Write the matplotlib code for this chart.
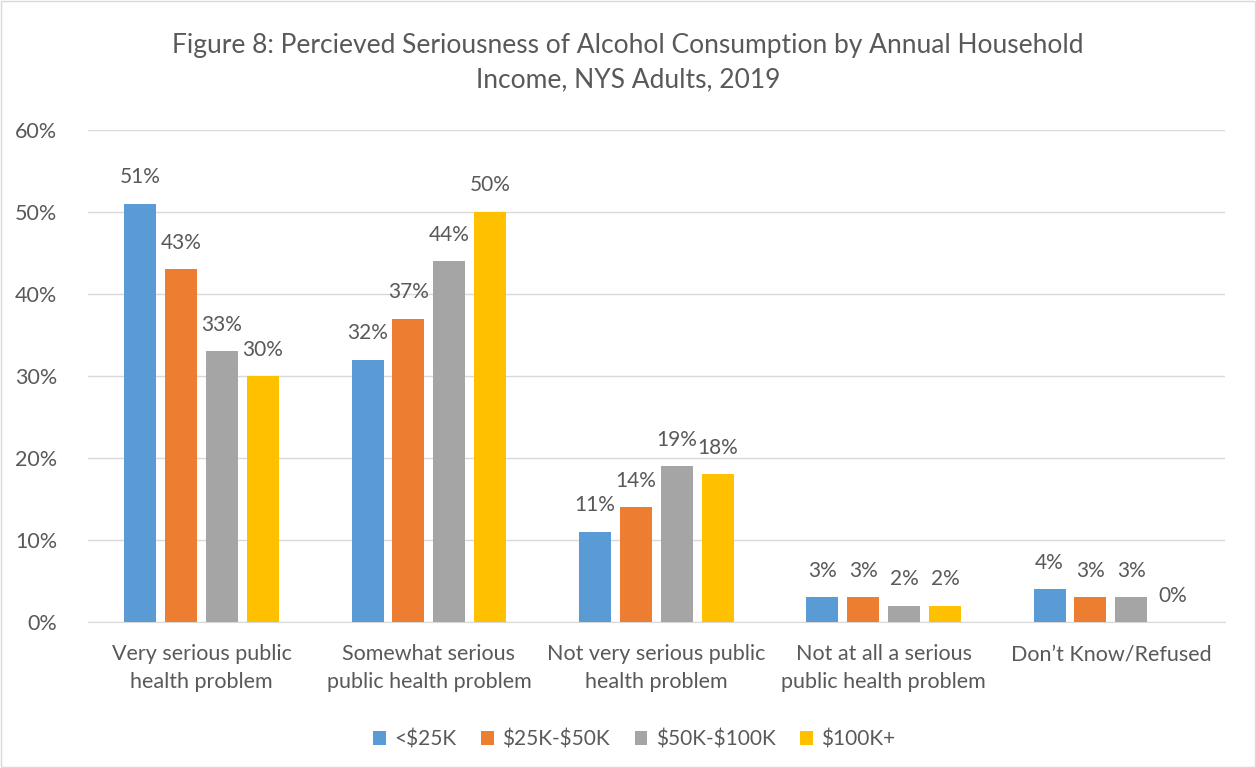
import matplotlib.pyplot as plt
import numpy as np

plt.rcParams['font.family'] = ['Lato', 'DejaVu Sans']

categories = ['Very serious public\nhealth problem', 'Somewhat serious\npublic health problem',
              'Not very serious public\nhealth problem', 'Not at all a serious\npublic health problem',
              'Don\u2019t Know/Refused']
series = [r'<\$25K', r'\$25K-\$50K', r'\$50K-\$100K', r'\$100K+']
values = [
    [51, 32, 11, 3, 4],
    [43, 37, 14, 3, 3],
    [33, 44, 19, 2, 3],
    [30, 50, 18, 2, 0],
]
colors = ['#5B9BD5', '#ED7D31', '#A5A5A5', '#FFC000']
txt = '#595959'

fig = plt.figure(figsize=(12.56, 7.68), dpi=100)
ax = fig.add_axes([0.070, 0.190, 0.905, 0.641])

x = np.arange(len(categories))
step = 0.18
width = 0.141
for i, (name, vals) in enumerate(zip(series, values)):
    pos = x + (i - 1.5) * step
    ax.bar(pos, vals, width, color=colors[i], label=name, zorder=3)
    for p, v in zip(pos, vals):
        ax.text(p, v + 2.0, f'{v}%', ha='center', va='bottom', fontsize=15, color=txt)

ax.set_xlim(-0.5, len(categories) - 0.5)
ax.set_ylim(0, 60)
ax.set_yticks(range(0, 61, 10))
ax.set_yticklabels([f'{t}%' for t in range(0, 61, 10)])
ax.set_xticks(x)
ax.set_xticklabels(categories, linespacing=1.45)
ax.grid(axis='y', color='#D9D9D9', linewidth=1, zorder=0)
for s in ['top', 'right', 'left']:
    ax.spines[s].set_visible(False)
ax.spines['bottom'].set_color('#D9D9D9')
ax.tick_params(axis='both', length=0, labelsize=15.5, colors=txt)
ax.tick_params(axis='x', pad=16)
ax.tick_params(axis='y', pad=22)

fig.suptitle('Figure 8: Percieved Seriousness of Alcohol Consumption by Annual Household\nIncome, NYS Adults, 2019',
             y=0.957, fontsize=19, color=txt, linespacing=1.45)

fig.legend(loc='lower center', bbox_to_anchor=(0.505, 0.0), ncol=4, frameon=False,
           fontsize=15, labelcolor=txt, handlelength=0.6, handleheight=0.6, columnspacing=1.2,
           handletextpad=0.4)

fig.patches.append(plt.Rectangle((0.001, 0.001), 0.998, 0.998, transform=fig.transFigure,
                                 fill=False, edgecolor='#D9D9D9', linewidth=1))

fig.savefig('out.png', dpi=100)
